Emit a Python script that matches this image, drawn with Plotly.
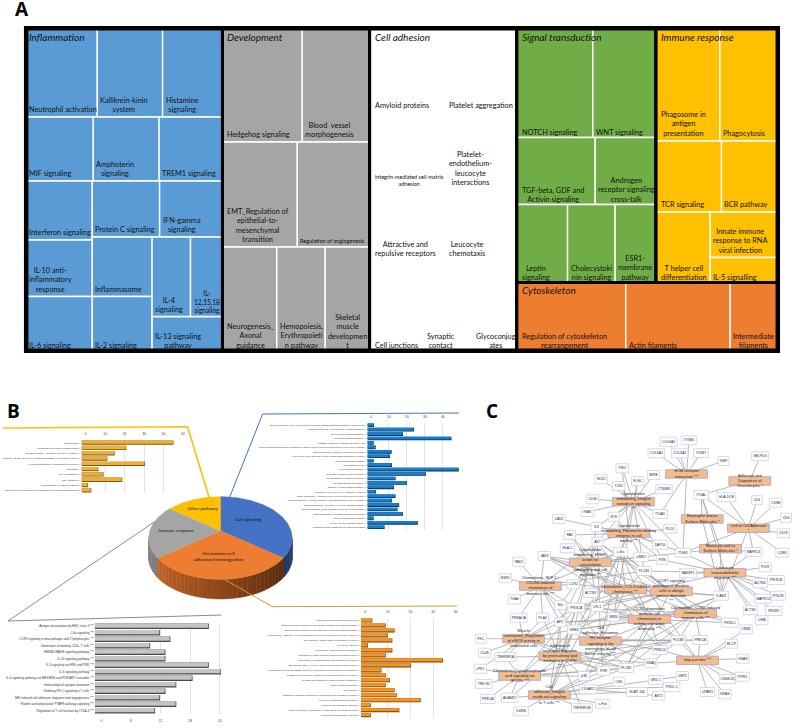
import plotly.graph_objects as go
import math
from collections import defaultdict

W, H = 800, 728

# ---------- Panel A: treemap (values are read as cell areas) ----------
tree_ids = ["_root",
 "_infl", "_inf1", "Neutrophil activation", "Kallikrein-kinin<br>system", "Histamine<br>signaling",
 "_inf2", "MIF signaling", "Amphoterin<br>signaling", "TREM1 signaling",
 "_inf3", "_inf3l", "Interferon signaling", "IL-10 anti-<br>inflammatory<br>response", "IL-6 signaling",
 "_inf3r", "_inf3ra", "Protein C signaling", "IFN-gamma<br>signaling",
 "_inf3rb", "_inf3c1", "Inflammasome", "IL-2 signaling",
 "_inf3c2", "_inf3c2a", "IL-4<br>signaling", "IL-<br>12,15,18<br>signaling", "IL-13 signaling<br>pathway",
 "_dev", "_d1", "Hedgehog signaling", "Blood  vessel<br>morphogenesis",
 "_d2", "EMT_Regulation of<br>epithelial-to-<br>mesenchymal<br>transition", "Regulation of angiogenesis",
 "_d3", "Neurogenesis_<br>Axonal<br>guidance", "Hemopoiesis,<br>Erythropoieti<br>n pathway", "Skeletal<br>muscle<br>developmen<br>t",
 "_cell", "_c1", "Amyloid proteins", "Platelet aggregation",
 "_c2", "integrin-mediated cell-matrix<br>adhesion", "Platelet-<br>endothelium-<br>leucocyte<br>interactions",
 "_c3", "Attractive and<br>repulsive receptors", "Leucocyte<br>chemotaxis",
 "_c4", "Cell junctions", "Synaptic<br>contact", "Glycoconjug<br>ates",
 "_right", "_top", "_signal", "_s1", "NOTCH signaling", "WNT signaling",
 "_s2", "TGF-beta, GDF and<br>Activin signaling", "Androgen<br>receptor signaling<br>cross-talk",
 "_s3", "Leptin<br>signaling", "Cholecystoki<br>nin signaling", "ESR1-<br>membrane<br>pathway",
 "_immune", "_i1", "Phagosome in<br>antigen<br>presentation", "Phagocytosis",
 "_i2", "TCR signaling", "BCR pathway",
 "_i3", "T helper cell<br>differentiation", "_i3r", "Innate immune<br>response to RNA<br>viral infection", "IL-5 signalling",
 "_cyto", "Regulation of cytoskeleton<br>rearrangement", "Actin filaments", "Intermediate<br>filaments"]
tree_parents = ["",
 "_root", "_infl", "_inf1", "_inf1", "_inf1",
 "_infl", "_inf2", "_inf2", "_inf2",
 "_infl", "_inf3", "_inf3l", "_inf3l", "_inf3l",
 "_inf3", "_inf3r", "_inf3ra", "_inf3ra",
 "_inf3r", "_inf3rb", "_inf3c1", "_inf3c1",
 "_inf3rb", "_inf3c2", "_inf3c2a", "_inf3c2a", "_inf3c2",
 "_root", "_dev", "_d1", "_d1",
 "_dev", "_d2", "_d2",
 "_dev", "_d3", "_d3", "_d3",
 "_root", "_cell", "_c1", "_c1",
 "_cell", "_c2", "_c2",
 "_cell", "_c3", "_c3",
 "_cell", "_c4", "_c4", "_c4",
 "_root", "_right", "_top", "_signal", "_s1", "_s1",
 "_signal", "_s2", "_s2",
 "_signal", "_s3", "_s3", "_s3",
 "_top", "_immune", "_i1", "_i1",
 "_immune", "_i2", "_i2",
 "_immune", "_i3", "_i3", "_i3r", "_i3r",
 "_right", "_cyto", "_cyto", "_cyto"]
tree_values = [0,
 0, 0, 6204, 5764, 5280,
 0, 4256, 4224, 4064,
 0, 0, 3865, 3701, 3504,
 0, 0, 3780, 3528,
 0, 0, 3570, 3210,
 0, 0, 3061, 2544, 2362,
 0, 0, 9040, 7628,
 0, 7875, 7613,
 0, 5614, 4996, 4584,
 0, 0, 6197, 5751,
 0, 5891, 5468,
 0, 5432, 5041,
 0, 5014, 4480, 4070,
 0, 0, 0, 0, 8279, 6857,
 0, 5273, 4074,
 0, 3978, 3721, 3182,
 0, 0, 7190, 6418,
 0, 4672, 3955,
 0, 3842, 0, 3049, 1675,
 0, 7378, 7067, 3172]
group_nodes = ["_infl", "_dev", "_cell", "_signal", "_immune", "_cyto"]
group_names = ["Inflammation", "Development", "Cell adhesion", "Signal transduction", "Immune response", "Cytoskeleton"]
group_colors = ["#5B9BD5", "#A5A5A5", "#FFFFFF", "#70AD47", "#FFC000", "#ED7D31"]
small_label_sizes = {"Regulation of angiogenesis": 5.5, "integrin-mediated cell-matrix<br>adhesion": 5.4, "IL-<br>12,15,18<br>signaling": 6.6}

# ---------- Panel B: pie and four bar insets ----------
pie_labels = ["Cell signaling", "Chemotaxis/cell<br>adhesion/transmigration", "Immune response", "Other pathway"]
pie_values = [33, 34, 20.5, 12.5]
pie_colors = ["#4472C4", "#ED7D31", "#A5A5A5", "#FFC000"]

other_cats = ["Endocytosis **", "Fc gamma R-mediated phagocytosis **", "Oxidative stress_Activation of NADPH oxidase ***",
 "Oxidative stress_Role of IL-8 signaling pathway in respiratory burst ***", "Protein processing in endoplasmic reticulum **",
 "Ribosome **", "RNA degradation **", "RNA transport **", "Phospholipase C-capture pathway *",
 "Steps in the Glycosylation of Mammalian N-linked Oligosaccarides *"]
other_vals = [45.2, 20.9, 14.9, 11.1, 30.5, 6.5, 9.2, 18.8, 1.2, 2.9]
other_ticks = [0, 10, 20, 30, 40, 50]

signal_cats = ["Activation of Cdc by cAMP-dependent Protein Kinase Inhibits Signaling through the T Cell Receptor *",
 "Apoptosis and survival_HGF/TNF-RSK mediated signaling ***", "B cell receptor signaling pathway ***", "Chemokine signaling pathway ***",
 "ChREBP regulation by carbohydrates and cAMP *", "Cystic fibrosis transmembrane conductance regulator (CFTR) and beta 2 adrenergic receptor (b2AR) pathway *",
 "Essential signaling_Prominin-1/ E-cadherin signaling **", "HGF receptor (Met) and MSP receptor (RON) signaling pathways in SCLC **",
 "IFN-gamma signaling pathway *", "IGF signaling in HCC **", "MAPK signaling pathway ***", "Neuroactive ligand-receptor interaction **",
 "NF-kB signaling in cardiac hypertrophy **", "NF-kappa B signaling pathway ***", "NOD-like receptor signaling pathway ***",
 "Regulation of nt:ll ceS by type I glutamate receptors *", "Signal transduction_Activation of PKC via G-Protein coupled receptor **",
 "Signal transduction_Additional pathways of NF-kB activation (in the cytoplasm) **", "Signal transduction_Adenosine A1 receptor signaling pathway **",
 "Signal transduction_CFTR signaling outside the nervous system **", "Signal transduction_mTORC2 downstream signaling **",
 "Sonic Hedgehog (Shh) Pathway *", "Toll-like receptor signaling pathway **", "Transcription factor CREB and its extracellular signals *"]
signal_vals = [1.7, 24, 17.8, 44.8, 1.5, 2.6, 11.5, 10.6, 1.5, 11.7, 48.9, 30.6, 13.7, 20, 12.8, 2.8, 13.7, 11.7, 15.7, 14.8, 17.8, 1.5, 26.1, 7.6]
signal_ticks = [0, 10, 20, 30, 40]

immune_cats = ["Antigen presentation by MHC class II ***", "Cilia signaling ***", "CCR5 signaling in macrophages and T lymphocytes ***",
 "Generation of memory CD4+ T cells ***", "HMGB1/RAGE signaling pathway ***", "IL-10 signaling pathway ***", "IL-3 signaling via ERK and PI3K ***",
 "IL-6 signaling pathway ***", "IL-6 signaling pathway via MEK/ERK and PI3K/AKT cascades ***", "Immunological synapse formation ***",
 "Inhibitory PD-1 signaling in T cells ***", "MIF induced cell adhesion, migration and angiogenesis ***",
 "Platelet activating factor/ PTAFR pathway signaling ***", "Regulation of T cell function by CTLA-4 ***"]
immune_vals = [21.8, 11.9, 14, 9.9, 13, 13, 21.8, 24.3, 18.5, 15.2, 13, 11.9, 15.2, 10.9]
immune_ticks = [0, 6, 12, 18, 24]

chemo_cats = ["Adhesion and Diapedesis of Granulocytes *", "CCR5-dependent immune cell chemotaxis in asthma and atopic dermatitis ***",
 "CCR7 signaling pathways in dendritic cells in allergic contact dermatitis ***",
 "Cell adhesion_Histamine H1 receptor signaling in the interruption of cell barrier integrity ***",
 "Cell adhesion_Integrin inside-out signaling in T cells ***", "Cell to Cell Adhesion *", "Chemokines_CCL2-induced chemotaxis ***",
 "Chemokines_CCR5-induced chemotaxis of immune cells ***", "Chemokines_Lysophosphatidic acid signaling via GPCRs ***",
 "Chemokines_SDF-1 / CXCR4-induced chemotaxis of immune cells ***",
 "Cytoskeleton remodeling_ERBF1 action on cytoskeleton remodeling and cell migration ***",
 "Cytoskeleton remodeling_Fibronectin-binding integrins in cell motility ***", "Cytoskeleton remodeling_Integrin outside-in signaling ***",
 "ECM-receptor interaction ***", "Gap junction ***", "Inhibition of neutrophil migration by proresolving lipid mediators in COPD ***",
 "Leukocyte transendothelial migration ***", "Monocyte and its Surface Molecules *",
 "Muscle contraction_Regulation of eNOS activity in endothelial cells ***", "Neutrophil and its Surface Molecules *"]
chemo_vals = [3.2, 9.1, 13, 10, 12, 1.3, 12, 9.1, 34.3, 20.2, 7.2, 9.1, 11, 9.1, 13, 13.9, 24.5, 2.5, 15.1, 2.5]
chemo_ticks = [0, 10, 20, 30, 40]

# ---------- Panel C: network (node positions) ----------
gene_labels = ["COL6A1","ITGB3","COL6A2","COL5A2","ITGB7","VWF","SELPLG","TRIO","WIRE","NCK2","FLNC","TLN1","CTNNB1","ITGAL","HLA-DOB","CD4","CD8B","CD36",
 "IRAS","SYK","ITGA5","CD6","CAV1","ILK","PLD1","CD19","FAK","AKT","DAP10","HLA-C","c-Src","ITGB1","MAPK13","CD86","JAK3","LIMK2","PXN","PAK2",
 "PLCB1","RASSF1","F11R","PIK3CB","ACTN4","ESR1","PTK2B","MAPK14","CCR2","ACTN3","ICAM1","TGA0","Shc","PIK3CA","CFL1","ACTN1","PIK3R1","CHIB",
 "PRKACA","PLA2","MSN","PIK3CC","APC","GNB3","CNN2","PLCB3","PRKCB","MLCP","PKC","C1aR","TNFRSF1A","PRKCD","GNAS","PLCB2","GNAQ","IP3R","cPKC",
 "p38","CSK","GRD-1","UBP2","ITPR3","CSNK1D","TNF-R2","C1GAR1","PXDL-1","UPAR1","KRAS","SLAP-130","AKT1","PRKCA","ADAM17","c-Fos","TNFRSF1B","IL6RB"]
gene_x = [670.3,690.7,658,681.3,702.7,725.3,762,623.7,655,602.7,639.3,620.3,665.7,703,728.3,758.7,777.7,594,
 588.7,615.3,661.7,788,560.3,598,671.7,785.3,571.3,599,661.7,569,622.3,684.7,755.3,784,545.7,642.7,664,520,
 645.7,689.7,767,778,762,506.7,780,765,574.7,592,723,515.7,561.7,577.7,598.7,752.3,775.7,763.7,
 520,544,615,731.7,561.7,575.3,748,680,702,733.3,482,485.7,506.7,661.7,744.7,627.7,652.7,605,481.7,
 585.3,620.3,657.3,684,744,729.3,485,589.3,673.3,709.3,726.7,638.7,660.3,489,511,604.3,583.3,522.3]
gene_y = [441.7,440.3,453.3,453.3,453,461,456.3,468.3,475,479.3,481.3,486,489.3,495,497.3,500.3,502.7,499.3,
 512,516.7,514,517.7,519,527,528.7,533.3,535,541.7,544.7,548.3,552,552.7,552,552.7,556,557.3,560,561.7,
 571,573.3,567.3,580,583.3,578.3,595.7,598.7,584.3,593,595.7,599.3,605,607.7,607,610.3,611,620.3,
 617.7,617.7,616.7,622.7,622.3,629.7,629.3,640.3,640,643.7,638.7,652.7,657,650,658.7,668,663.3,670.7,668.7,
 676,681.7,680,676,676.7,679,684,689.3,687,692,694.3,692,695.7,699,697.7,703.7,708.3,711.3]

path_labels = ["ECM-receptor<br>interaction ***", "Adhesion and<br>Diapedesis of<br>Granulocytes *", "Cytoskeleton<br>remodeling_Integrin<br>outside-in signaling<br>***",
 "Neutrophil and its<br>Surface Molecules *", "Cell to Cell Adhesion<br>*", "Cytoskeleton<br>remodeling_Fibronectin-binding<br>integrins in cell<br>motility ***",
 "Monocyte and its<br>Surface Molecules *", "Cytoskeleton<br>remodeling_ERBF1<br>action on<br>cytoskeleton<br>remodeling and cell<br>migration ***",
 "Leukocyte<br>transendothelial<br>migration ***", "Chemokines_SDF-1 /<br>CXCR4-induced<br>chemotaxis of<br>immune cells ***",
 "Chemokines_CCL2-induced<br>chemotaxis ***", "CCR7 signaling<br>pathways in dendritic<br>cells in allergic<br>contact dermatitis<br>***",
 "CCR5-dependent<br>immune cell<br>chemotaxis in<br>asthma and atopic<br>dermatitis ***", "Chemokines_CCR5-induced<br>chemotaxis of<br>immune cells ***",
 "Muscle<br>contraction_Regulation<br>of eNOS activity in<br>endothelial cells", "Cell<br>adhesion_Histamine<br>H1 receptor<br>signaling in the<br>interruption of cell<br>barrier integrity ***",
 "Inhibition of<br>neutrophil migration<br>by proresolving lipid<br>mediators in COPD<br>***", "Gap junction ***", "Chemokines_Lysophosphatidic<br>acid signaling via<br>GPCRs ***",
 "Cell<br>adhesion_Integrin<br>inside-out signaling<br>in T cells ***"]
path_x = [688.3,751.7,635,704,750.3,630.3,722.3,591.7,726.7,541.7,627,673,651,697.3,525,602,561.3,699.3,521,550.7]
path_y = [474,481,501.7,519,528.3,533.3,548.7,562.3,572.7,586,589.3,591.3,619.3,613.3,638.7,641,656.3,660.3,676,695]
path_genes = [
 ["COL6A1","ITGB3","COL6A2","COL5A2","ITGB7","VWF","ITGA5","ITGB1"],
 ["SELPLG","ITGAL"],
 ["TRIO","WIRE","NCK2","FLNC","TLN1","CTNNB1","CD36","SYK","IRAS","ILK","AKT","c-Src","ITGB1","PXN","ITGA5","PLCB1"],
 ["ITGAL","ICAM1"],
 ["ITGAL","HLA-DOB","CD4","CD8B","CD6","CD19","CD86","ITGB1","ICAM1","MAPK13"],
 ["ILK","AKT","c-Src","SYK","FAK","CAV1","PXN","PLD1","LIMK2","DAP10","ITGB1","MSN","TRIO","FLNC"],
 ["ITGAL","ITGB1","ICAM1","MAPK13"],
 ["JAK3","HLA-C","FAK","AKT","c-Src","ILK","PXN","LIMK2","CFL1","PIK3CA","GNB3","Shc","APC","ITGB1","PRKCD"],
 ["F11R","PIK3CB","ACTN4","PTK2B","MAPK14","ACTN1","ITGAL","ICAM1","CHIB","PIK3R1","MAPK13","RASSF1","PLCB1","PXN","ITGB1","PIK3CA"],
 ["ESR1","TGA0","PRKACA","PLA2","Shc","PIK3CA","APC","CCR2","PAK2","JAK3","c-Src","GNB3","AKT","PLCB1"],
 ["CCR2","ACTN3","PLCB1","GNB3","PIK3CA","MSN","ICAM1","c-Src","JAK3","PLCB3","FAK"],
 ["PLCB1","RASSF1","ICAM1","PIK3CC","GNB3","CFL1","MSN","PIK3CA","c-Src","JAK3","PLCB2","AKT"],
 ["CFL1","MSN","GNB3","PIK3CA","PLCB3","PIK3CC","PRKCD","JAK3","APC","ICAM1","PLCB2","c-Src","AKT","p38"],
 ["ICAM1","PIK3CC","GNB3","PIK3CA","c-Src","PLCB3","MSN","PRKCB","JAK3","APC","PLCB2","AKT","p38"],
 ["PKC","C1aR","TNFRSF1A","PRKACA","PLA2","GNB3","PIK3CA","cPKC","IP3R","PLCB2","APC","PLCB3"],
 ["GNB3","PIK3CA","MSN","c-Src","IP3R","PLCB2","PLCB3","GNAQ","PRKCD","PRKCB","APC","p38","AKT","ICAM1"],
 ["TNFRSF1A","p38","PIK3CA","GNB3","APC","PLA2","TNFRSF1B","IP3R","PLCB2","ADAM17","PLCB3","GNAQ","c-Src"],
 ["PLCB3","PRKCB","MLCP","GNAS","CSNK1D","ITPR3","UPAR1","KRAS","PRKCD","GNAQ","c-Src","CNN2"],
 ["cPKC","TNF-R2","PRKCA","ADAM17","GNB3","PIK3CA","p38","TNFRSF1A","PLCB2","IP3R","PLCB3"],
 ["p38","C1GAR1","IL6RB","ADAM17","TNFRSF1B","c-Fos","GNB3","PIK3CA","APC","IP3R","CSK","PLCB2","SLAP-130","c-Src"]]
extra_edges = [("C1GAR1","GRD-1"),("C1GAR1","PXDL-1"),("C1GAR1","AKT1"),("GRD-1","UBP2"),("PLCB2","IP3R"),("PLCB2","GNAQ"),("PLCB3","PRKCB"),("PLCB3","GNAQ")]

# Callout lines between the pie and its insets
callout_x = [[210.7, 188, 3], [230, 263.3, 460], [155, 8, 222], [226, 273, 458]]
callout_y = [[501, 426.7, 428], [497.7, 414, 413], [521.7, 621, 615], [580, 606.7, 606]]
callout_colors = ["#FFC000", "#4472C4", "#8C8C8C", "#C9A227"]
callout_widths = [1.6, 1, 1, 1]

# ======================================================================
fig = go.Figure()

def px_x(v): return v / W
def px_y(v): return 1 - v / H

PCX, PCY, PAX, PAY, APEX_Y, DEPTH = 221, 538, 72, 41.5, 530.7, 19.5
def arc_pt(deg, dy=0):
    t = math.radians(deg)
    return PCX + PAX * math.sin(t), PCY - PAY * math.cos(t) + dy

total = sum(pie_values)
cum = [0]
for v in pie_values:
    cum.append(cum[-1] + v / total * 360)

def mix(c1, c2, f):
    return "rgb(%d,%d,%d)" % tuple(c1[i] + (c2[i] - c1[i]) * f for i in range(3))

side_cols = [(32, 56, 100), None, (125, 125, 125), (160, 120, 0)]
step = 4
deg = 90
while deg < 270:
    d2 = min(deg + step, 270)
    mid = (deg + d2) / 2
    idx = next(i for i in range(4) if cum[i] <= mid < cum[i + 1])
    if idx == 1:
        f = (mid - cum[1]) / (cum[2] - cum[1])
        col = mix((88, 42, 12), (196, 100, 40), f)
    else:
        col = "rgb(%d,%d,%d)" % side_cols[idx]
    a, b = arc_pt(deg), arc_pt(d2)
    c, d = arc_pt(d2, DEPTH), arc_pt(deg, DEPTH)
    fig.add_trace(go.Scatter(x=[a[0], b[0], c[0], d[0], a[0]], y=[a[1], b[1], c[1], d[1], a[1]], mode="lines",
                             fill="toself", fillcolor=col, line=dict(color=col, width=0.5), hoverinfo="skip", showlegend=False))
    deg = d2

for i in range(4):
    angs = []
    n = max(int(cum[i + 1] - cum[i]), 2)
    for k in range(n + 1):
        angs.append(cum[i] + (cum[i + 1] - cum[i]) * k / n)
    pts = [arc_pt(a) for a in angs]
    fig.add_trace(go.Scatter(x=[PCX] + [p[0] for p in pts] + [PCX], y=[APEX_Y] + [p[1] for p in pts] + [APEX_Y],
                             mode="lines", fill="toself", fillcolor=pie_colors[i], line=dict(color=pie_colors[i], width=0.3),
                             hoverinfo="skip", showlegend=False))

fig.add_trace(go.Scatter(x=[248.7, 219, 176.7, 203], y=[519.5, 557, 531, 509], mode="text", text=pie_labels,
                         textfont=dict(family="Lato", size=4.6, color="#111111"), hoverinfo="skip", showlegend=False))

for cx, cy, cc, cw in zip(callout_x, callout_y, callout_colors, callout_widths):
    fig.add_trace(go.Scatter(x=cx, y=cy, mode="lines", line=dict(color=cc, width=cw), hoverinfo="skip", showlegend=False))

node_pos = {l: (x, y) for l, x, y in zip(gene_labels, gene_x, gene_y)}
ex, ey = [], []
for lab, px, py, genes in zip(path_labels, path_x, path_y, path_genes):
    for g in genes:
        ex += [px, node_pos[g][0], None]
        ey += [py, node_pos[g][1], None]
for a, b in extra_edges:
    ex += [node_pos[a][0], node_pos[b][0], None]
    ey += [node_pos[a][1], node_pos[b][1], None]
fig.add_trace(go.Scatter(x=ex, y=ey, mode="lines", line=dict(color="#A6A6A6", width=0.8), hoverinfo="skip", showlegend=False))

def box_path(xs, ys, ws, hs):
    bx, by = [], []
    for x, y, w, h in zip(xs, ys, ws, hs):
        bx += [x - w / 2, x + w / 2, x + w / 2, x - w / 2, x - w / 2, None]
        by += [y - h / 2, y - h / 2, y + h / 2, y + h / 2, y - h / 2, None]
    return bx, by

gw = [max(11, len(l) * 2.1 + 4) for l in gene_labels]
bx, by = box_path(gene_x, gene_y, gw, [9] * len(gene_x))
fig.add_trace(go.Scatter(x=bx, y=by, mode="lines", fill="toself", fillcolor="#FFFFFF", line=dict(color="#D2D2F2", width=0.9),
                         hoverinfo="skip", showlegend=False))
bx, by = box_path(path_x, path_y, [42] * len(path_x), [8.5] * len(path_x))
fig.add_trace(go.Scatter(x=bx, y=by, mode="lines", fill="toself", fillcolor="#F2BC8D", line=dict(color="#A8A0D0", width=0.8),
                         hoverinfo="skip", showlegend=False))
fig.add_trace(go.Scatter(x=gene_x, y=gene_y, mode="text", text=gene_labels, textfont=dict(family="Liberation Sans", size=3.4, color="#222222"),
                         hoverinfo="skip", showlegend=False))
fig.add_trace(go.Scatter(x=path_x, y=path_y, mode="text", text=path_labels, textfont=dict(family="Liberation Sans", size=3.9, color="#222222"),
                         hoverinfo="skip", showlegend=False))

layout_axes = dict(
    xaxis=dict(domain=[0, 1], range=[0, W], visible=False, fixedrange=True),
    yaxis=dict(domain=[0, 1], range=[H, 0], visible=False, fixedrange=True),
)

def add_bars(n, cats, vals, ticks, axmin, axmax, box, light, dark, cat_size, side):
    x0, y0, x1, y1 = box
    xa, ya = "x%d" % n, "y%d" % n
    base_len = [v - axmin for v in vals]
    fig.add_trace(go.Bar(y=cats, x=base_len, base=axmin, orientation="h", xaxis=xa, yaxis=ya, width=0.82, offset=-0.41,
                         marker=dict(color=dark, line=dict(width=0)), hoverinfo="skip", showlegend=False))
    inset = (axmax - axmin) * 0.006
    fig.add_trace(go.Bar(y=cats, x=[b - inset for b in base_len], base=axmin, orientation="h", xaxis=xa, yaxis=ya, width=0.64, offset=-0.41,
                         marker=dict(color=light, line=dict(width=0)), hoverinfo="skip", showlegend=False))
    layout_axes["xaxis%d" % n] = dict(domain=[px_x(x0), px_x(x1)], range=[axmin, axmax], anchor="y%d" % n, side=side,
        tickvals=ticks, ticktext=[str(t) for t in ticks], tickfont=dict(family="Liberation Sans", size=3.4, color="#444444"),
        showgrid=True, gridcolor="#E4E4E4", gridwidth=0.7, zeroline=False, showline=False, ticks="outside", ticklen=3,
        tickcolor="rgba(0,0,0,0)", fixedrange=True)
    layout_axes["yaxis%d" % n] = dict(domain=[px_y(y1), px_y(y0)], anchor="x%d" % n, type="category", autorange="reversed",
        tickfont=dict(family="Liberation Sans", size=cat_size, color="#333333"), showgrid=False, ticks="", showline=False, zeroline=False,
        fixedrange=True, tickmode="linear", dtick=1)

add_bars(2, other_cats, other_vals, other_ticks, -2.2, 50, (81.7, 440, 183.3, 493), "#F2AE33", "#7A5A14", 2.5, "top")
add_bars(3, signal_cats, signal_vals, signal_ticks, -2, 48.9, (368.3, 423, 460, 529.5), "#1080D2", "#0B2A52", 2.2, "top")
add_bars(4, immune_cats, immune_vals, immune_ticks, -1.35, 24.3, (95, 623, 221.7, 714), "#C4C4C4", "#4A4A4A", 3.05, "bottom")
add_bars(5, chemo_cats, chemo_vals, chemo_ticks, -1.9, 40, (361.7, 618, 457, 717.7), "#F7951E", "#6B3D08", 2.3, "top")

TX0, TX1, TY0, TY1 = 27, 779, 29, 350
kids = defaultdict(list)
val_of = dict(zip(tree_ids, tree_values))
par_of = dict(zip(tree_ids, tree_parents))
for i, p in zip(tree_ids, tree_parents):
    if p:
        kids[p].append(i)
def node_total(i):
    return val_of[i] + sum(node_total(k) for k in kids[i])
rects = {}
def place(i, x0, y0, x1, y1, depth):
    rects[i] = (x0, y0, x1, y1)
    t = node_total(i)
    pos = x0 if depth % 2 == 0 else y0
    for k in kids[i]:
        frac = node_total(k) / t
        if depth % 2 == 0:
            w = (x1 - x0) * frac
            place(k, pos, y0, pos + w, y1, depth + 1)
        else:
            w = (y1 - y0) * frac
            place(k, x0, pos, x1, pos + w, depth + 1)
        pos += w
place("_root", TX0, TY0, TX1, TY1, 0)

group_color_of = dict(zip(group_nodes, group_colors))
def color_of(i):
    while i and i not in group_color_of:
        i = par_of[i]
    return group_color_of.get(i, "#FFFFFF")

fig.add_trace(go.Treemap(ids=tree_ids, labels=tree_ids, parents=tree_parents, values=tree_values, branchvalues="remainder", sort=False,
    tiling=dict(packing="slice-dice", pad=0), pathbar=dict(visible=False), textinfo="none", hoverinfo="skip", maxdepth=-1,
    marker=dict(colors=[color_of(i) for i in tree_ids], pad=dict(t=0, l=0, r=0, b=0),
                line=dict(color="#FFFFFF", width=[0 if i.startswith("_") else 1.4 for i in tree_ids])),
    domain=dict(x=[px_x(TX0), px_x(TX1)], y=[px_y(TY1), px_y(TY0)])))

shapes, anns = [], []
FRAME = 3
for g in group_nodes:
    x0, y0, x1, y1 = rects[g]
    shapes.append(dict(type="rect", xref="paper", yref="paper", x0=px_x(x0), x1=px_x(x1), y0=px_y(y0), y1=px_y(y1),
                       line=dict(color="#000000", width=FRAME), fillcolor="rgba(0,0,0,0)", layer="above"))
shapes.append(dict(type="rect", xref="paper", yref="paper", x0=px_x(TX0 - 1.5), x1=px_x(TX1 + 1.5), y0=px_y(TY0 - 1.5), y1=px_y(TY1 + 1.5),
                   line=dict(color="#000000", width=FRAME), fillcolor="rgba(0,0,0,0)", layer="above"))

group_left = [rects[g][0] for g in group_nodes]
for i in tree_ids:
    if i.startswith("_"):
        continue
    x0, y0, x1, y1 = rects[i]
    pad = 1.5 if abs(x0 - TX0) < 0.5 else (4 if any(abs(x0 - g) < 0.5 for g in group_left) else 2)
    raised = y1 < TY1 - 1 and (x0 < 369 or (x0 > 656 and y1 < 275))
    anns.append(dict(x=x0 + pad, y=y1 + (-1.8 if raised else 0.5), xref="x", yref="y", xanchor="left", yanchor="bottom", align="center", showarrow=False,
                     text=i, borderpad=0, font=dict(family="Lato", size=small_label_sizes.get(i, 7.3), color="#111111")))
for g, name in zip(group_nodes, group_names):
    x0, y0, x1, y1 = rects[g]
    anns.append(dict(x=x0 + (1.5 if abs(x0 - TX0) < 0.5 else 4), y=y0 + 0.5, xref="x", yref="y", xanchor="left", yanchor="top", showarrow=False,
                     text="<i>%s</i>" % name, borderpad=0, font=dict(family="Lato", size=10, color="#111111")))

for letter, lx, ly in [("A", 14, 8.5), ("B", 6, 411), ("C", 486, 411)]:
    anns.append(dict(x=lx, y=ly, xref="x", yref="y", xanchor="left", yanchor="middle", showarrow=False, text="<b>%s</b>" % letter, borderpad=0,
                     font=dict(family="Open Sans", size=19, color="#000000")))

fig.update_layout(width=W, height=H, margin=dict(l=0, r=0, t=0, b=0), paper_bgcolor="#FFFFFF", plot_bgcolor="rgba(0,0,0,0)",
                  barmode="overlay", showlegend=False, shapes=shapes, annotations=anns, **layout_axes)
fig.write_html("out.html", config=dict(displayModeBar=False),
               post_script="document.body.style.margin='0';document.body.style.overflow='hidden';")
